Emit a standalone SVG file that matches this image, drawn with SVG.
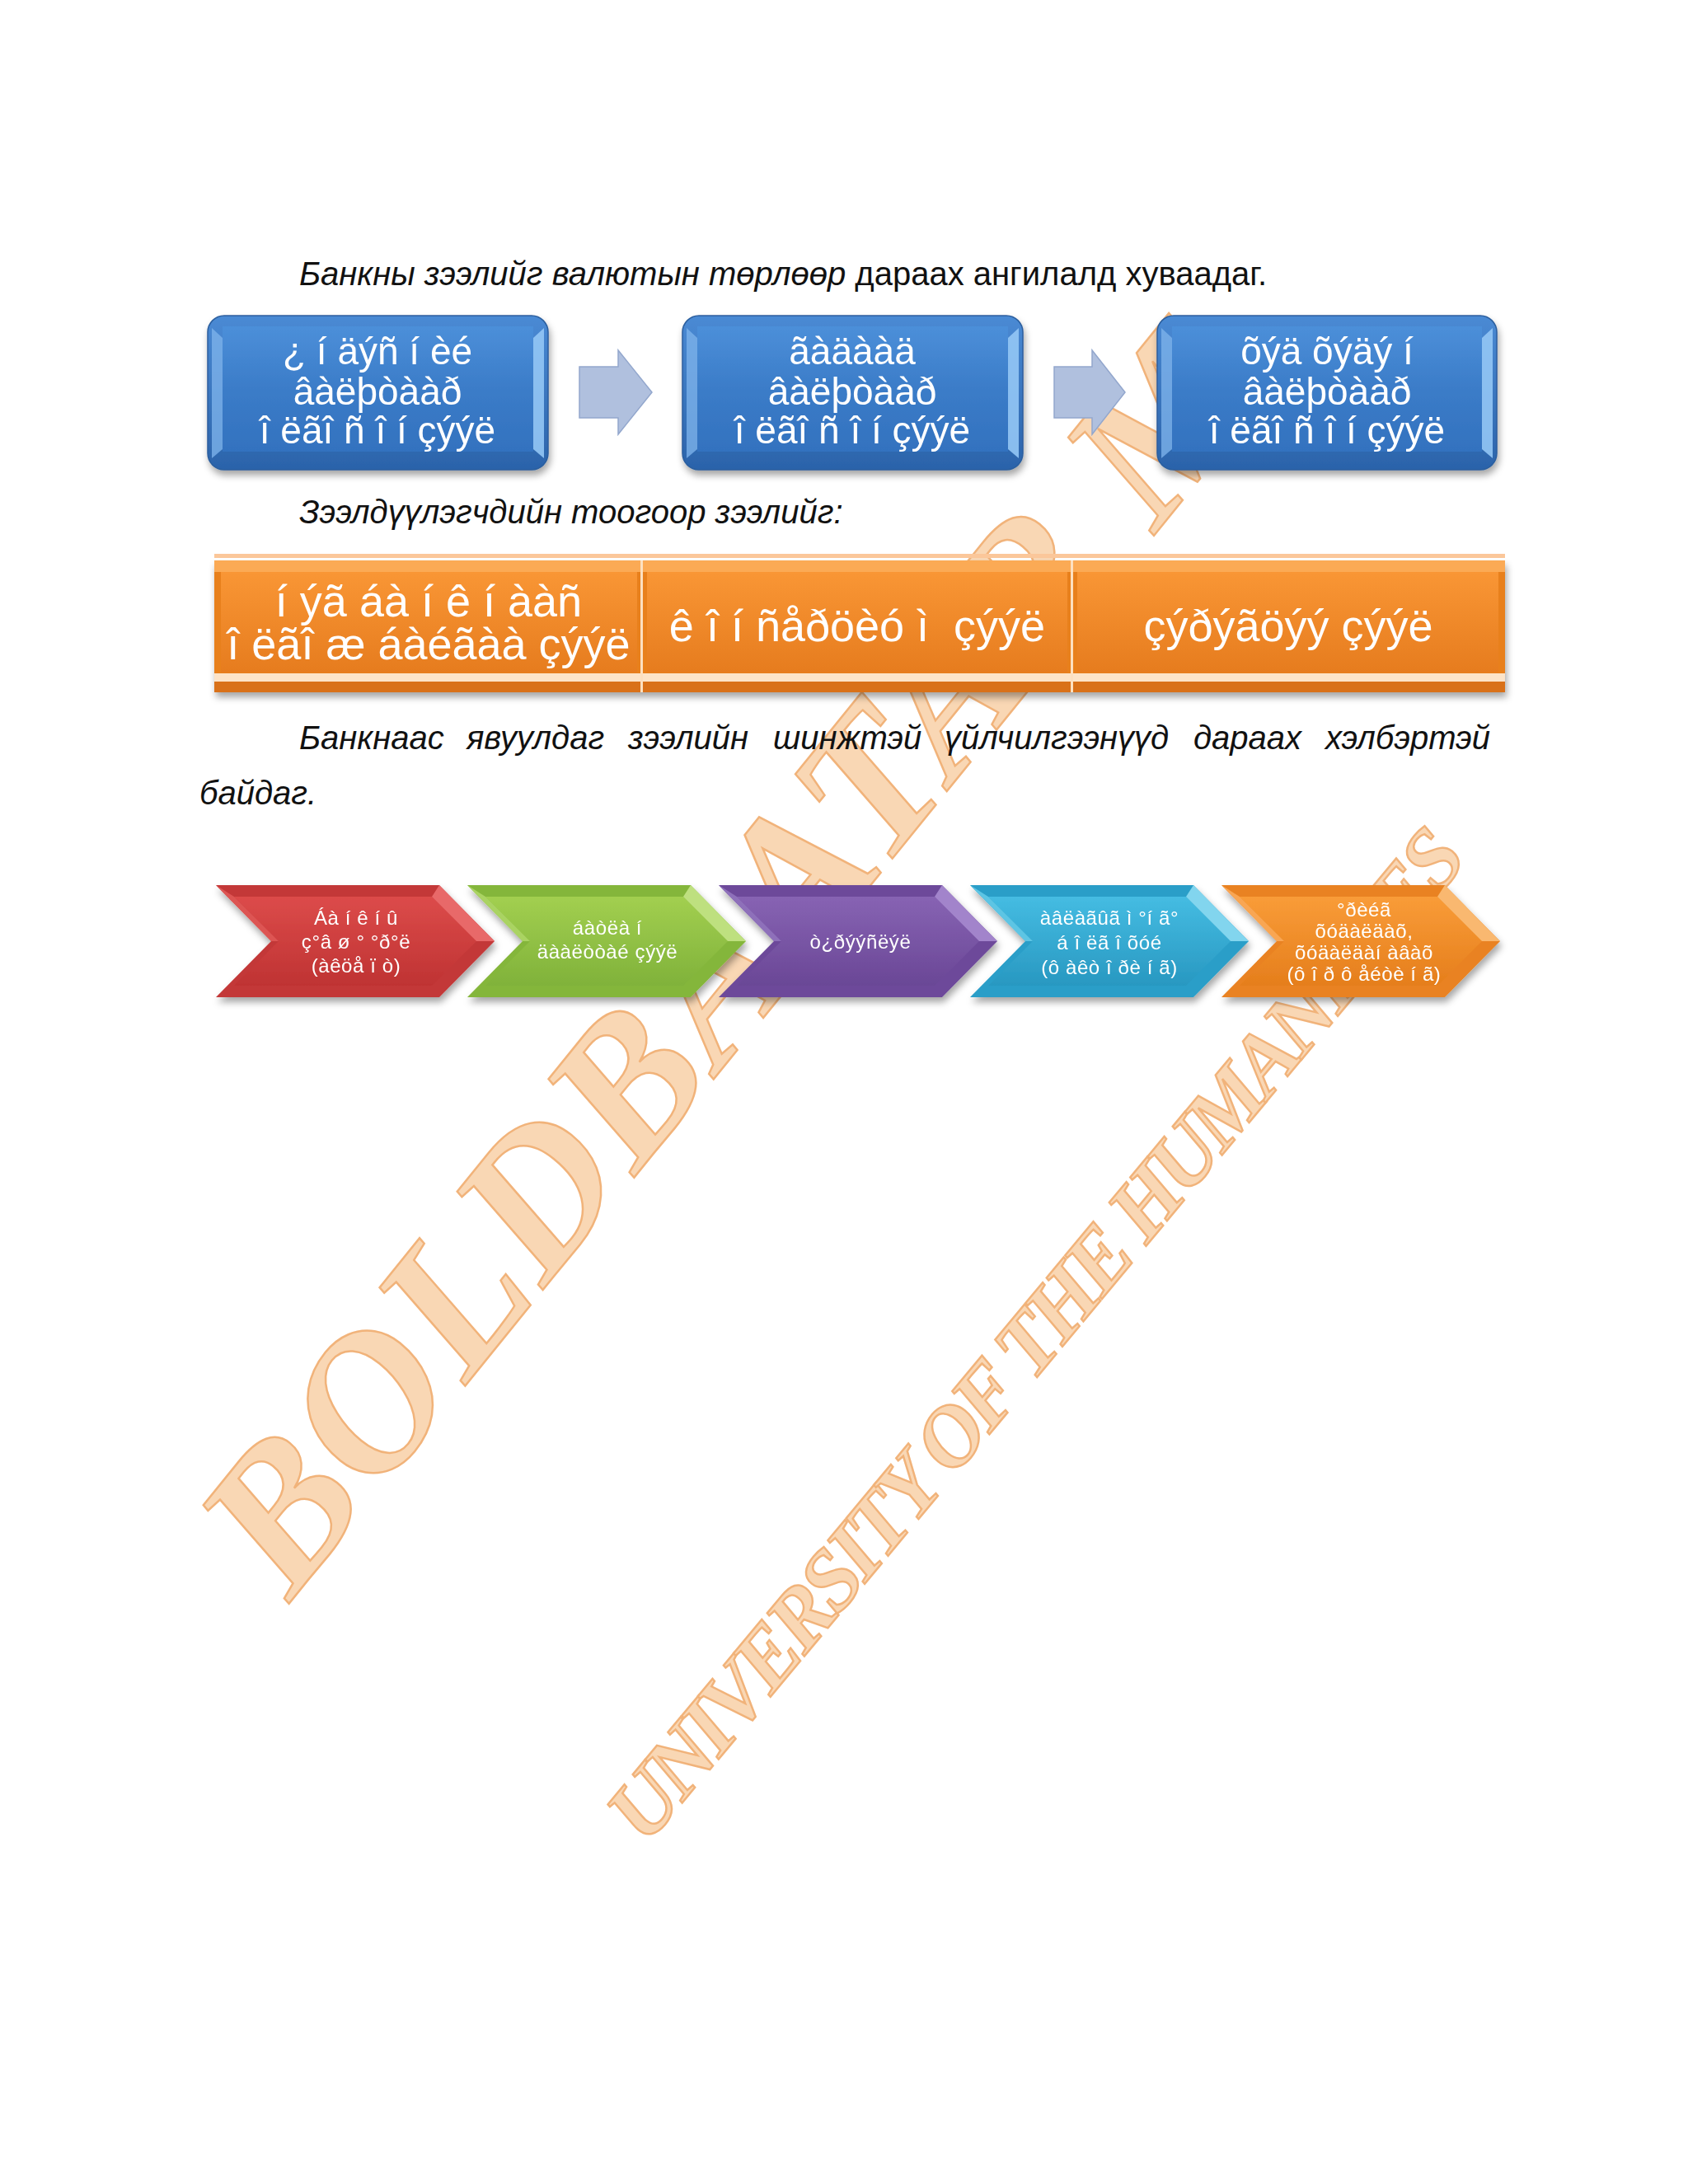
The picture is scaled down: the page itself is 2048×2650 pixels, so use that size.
<svg xmlns="http://www.w3.org/2000/svg" width="2048" height="2650" viewBox="0 0 2048 2650">
<style>
.body{font-family:"Liberation Sans",Arial,sans-serif;font-size:40px;fill:#111}
.it{font-style:italic}
.wm{font-family:"Liberation Serif","Times New Roman",serif;font-weight:bold;font-style:italic;fill:#f8c898;stroke:#ec9648;stroke-width:2.5;opacity:.72}
.bt{font-family:"Liberation Sans",Arial,sans-serif;font-size:46px;fill:#fff;text-anchor:middle}
.ot{font-family:"Liberation Sans",Arial,sans-serif;font-size:54px;fill:#fff;text-anchor:middle;white-space:pre}
.ct{font-family:"Liberation Sans",Arial,sans-serif;font-size:24px;fill:#fff;text-anchor:middle;letter-spacing:0.6px;white-space:pre}
.arrow{fill:#b0c0de;stroke:#93a7cd;stroke-width:1.5}
.bout{fill:url(#blueOuter);stroke:#2c5e9e;stroke-width:1.5}
.bface{fill:url(#blueFace)}
.bl{fill:#7cb2ea;opacity:.8}
.br{fill:#93c6f5;opacity:.9}
.lf{opacity:.85}
</style>
<defs>
<linearGradient id="blueOuter" x1="0" y1="0" x2="0" y2="1"><stop offset="0" stop-color="#4a8ad4"/><stop offset="1" stop-color="#2b63aa"/></linearGradient>
<linearGradient id="blueFace" x1="0" y1="0" x2="0" y2="1"><stop offset="0" stop-color="#4c8fd9"/><stop offset="0.5" stop-color="#3b7cc8"/><stop offset="1" stop-color="#3372bf"/></linearGradient>
<linearGradient id="orFace" x1="0" y1="0" x2="0" y2="1"><stop offset="0" stop-color="#f99635"/><stop offset="1" stop-color="#e67c1e"/></linearGradient>
<linearGradient id="gRed" x1="0" y1="0" x2="0" y2="1"><stop offset="0" stop-color="#dc4b4a"/><stop offset="1" stop-color="#bf3333"/></linearGradient>
<linearGradient id="gGreen" x1="0" y1="0" x2="0" y2="1"><stop offset="0" stop-color="#a2cf50"/><stop offset="1" stop-color="#80b23a"/></linearGradient>
<linearGradient id="gPurple" x1="0" y1="0" x2="0" y2="1"><stop offset="0" stop-color="#8763b3"/><stop offset="1" stop-color="#6a4796"/></linearGradient>
<linearGradient id="gCyan" x1="0" y1="0" x2="0" y2="1"><stop offset="0" stop-color="#45bce2"/><stop offset="1" stop-color="#2898c1"/></linearGradient>
<linearGradient id="gOrange" x1="0" y1="0" x2="0" y2="1"><stop offset="0" stop-color="#f99c38"/><stop offset="1" stop-color="#e57e1c"/></linearGradient>
<filter id="sh" x="-10%" y="-20%" width="120%" height="150%"><feDropShadow dx="2" dy="6" stdDeviation="4" flood-color="#000" flood-opacity="0.35"/></filter>
</defs>
<rect width="2048" height="2650" fill="#fff"/>

<g id="watermark">
<text class="wm" font-size="238" transform="translate(352,1944) rotate(-51)" textLength="1880" lengthAdjust="spacing">BOLDBAATAR M</text>
<text class="wm" font-size="104" transform="translate(784,2240) rotate(-50.2)" textLength="1560" lengthAdjust="spacing">UNIVERSITY OF THE HUMANITIES</text>
</g>

<g id="text1"><text class="body" x="363" y="346"><tspan class="it">Банкны зээлийг валютын төрлөөр</tspan> дараах ангилалд хуваадаг.</text></g>
<g id="text2"><text class="body it" x="363" y="635">Зээлдүүлэгчдийн тоогоор зээлийг:</text></g>
<g id="text3">
<text class="body it" x="363" y="909">Банкнаас</text>
<text class="body it" x="566" y="909">явуулдаг</text>
<text class="body it" x="762" y="909">зээлийн</text>
<text class="body it" x="938" y="909">шинжтэй</text>
<text class="body it" x="1146" y="909">үйлчилгээнүүд</text>
<text class="body it" x="1448" y="909">дараах</text>
<text class="body it" x="1808" y="909" text-anchor="end">хэлбэртэй</text>
<text class="body it" x="242" y="976">байдаг.</text>
</g>

<g id="connectors">
<polygon class="arrow" points="703,445 750,445 750,425 791,476 750,527 750,507 703,507"/>
<polygon class="arrow" points="1279,445 1325,445 1325,425 1365,476 1325,527 1325,507 1279,507"/>
</g>

<g id="box1" filter="url(#sh)">
<rect class="bout" x="252" y="383" width="413" height="187" rx="20"/>
<polygon class="bl" points="257,398 270,410 270,545 257,556"/>
<polygon class="br" points="660,398 647,410 647,545 660,556"/>
<rect class="bface" x="270" y="396" width="377" height="152"/>
<text class="bt" x="458" y="442">¿ í äýñ í èé</text>
<text class="bt" x="458" y="491">âàëþòààð</text>
<text class="bt" x="458" y="538">î ëãî ñ î í çýýë</text>
</g>
<g id="box2" filter="url(#sh)">
<rect class="bout" x="828" y="383" width="413" height="187" rx="20"/>
<polygon class="bl" points="833,398 846,410 846,545 833,556"/>
<polygon class="br" points="1236,398 1223,410 1223,545 1236,556"/>
<rect class="bface" x="846" y="396" width="377" height="152"/>
<text class="bt" x="1034" y="442">ãàäààä</text>
<text class="bt" x="1034" y="491">âàëþòààð</text>
<text class="bt" x="1034" y="538">î ëãî ñ î í çýýë</text>
</g>
<g id="box3" filter="url(#sh)">
<rect class="bout" x="1404" y="383" width="412" height="187" rx="20"/>
<polygon class="bl" points="1409,398 1422,410 1422,545 1409,556"/>
<polygon class="br" points="1811,398 1798,410 1798,545 1811,556"/>
<rect class="bface" x="1422" y="396" width="376" height="152"/>
<text class="bt" x="1610" y="442">õýä õýäý í</text>
<text class="bt" x="1610" y="491">âàëþòààð</text>
<text class="bt" x="1610" y="538">î ëãî ñ î í çýýë</text>
</g>

<g id="bar">
<rect x="260" y="672" width="1566" height="5" fill="#fbc79a"/>
<rect x="260" y="680" width="1566" height="160" fill="#e8801f" filter="url(#sh)"/>
</g>
<g id="seg1">
<rect x="260" y="680" width="519" height="14" fill="#fbaa55"/>
<rect x="268" y="694" width="505" height="122" fill="url(#orFace)"/>
<text class="ot" x="520" y="748">í ýã áà í ê í ààñ</text>
<text class="ot" x="520" y="800">î ëãî æ áàéãàà çýýë</text>
</g>
<g id="seg2">
<rect x="779" y="680" width="522" height="14" fill="#fbaa55"/>
<rect x="785" y="694" width="510" height="122" fill="url(#orFace)"/>
<text class="ot" x="1040" y="778">ê î í ñåðöèó ì  çýýë</text>
</g>
<g id="seg3">
<rect x="1301" y="680" width="525" height="14" fill="#fbaa55"/>
<rect x="1307" y="694" width="511" height="122" fill="url(#orFace)"/>
<text class="ot" x="1563" y="778">çýðýãöýý çýýë</text>
</g>
<g id="barEdges">
<rect x="260" y="817" width="1566" height="10" fill="#fde4c8"/>
<rect x="260" y="827" width="1566" height="13" fill="#d97119"/>
<rect x="777" y="680" width="3" height="160" fill="#fde0c0"/>
<rect x="1299" y="680" width="3" height="160" fill="#fde0c0"/>
</g>

<g id="chev1" filter="url(#sh)">
<polygon fill="#c33737" points="262,1074 533,1074 600,1142 533,1210 262,1210 329,1142"/>
<polygon fill="url(#gRed)" points="284,1088 524,1088 578,1142 524,1196 284,1196 338,1142"/>
<polygon class="lf" fill="#ee7272" points="533,1074 600,1142 578,1142 524,1088"/>
<polygon class="lf" fill="#e25a58" points="262,1074 329,1142 338,1142 284,1088"/>
<text class="ct" x="432" y="1122">Áà í ê í û</text>
<text class="ct" x="432" y="1151">ç°â ø ° °ð°ë</text>
<text class="ct" x="432" y="1180">(àêöå ï ò)</text>
</g>
<g id="chev2" filter="url(#sh)">
<polygon fill="#84b63a" points="567,1074 838,1074 905,1142 838,1210 567,1210 634,1142"/>
<polygon fill="url(#gGreen)" points="589,1088 829,1088 883,1142 829,1196 589,1196 643,1142"/>
<polygon class="lf" fill="#c8e88c" points="838,1074 905,1142 883,1142 829,1088"/>
<polygon class="lf" fill="#b0d86a" points="567,1074 634,1142 643,1142 589,1088"/>
<text class="ct" x="737" y="1134">áàòëà í</text>
<text class="ct" x="737" y="1163">äààëòòàé çýýë</text>
</g>
<g id="chev3" filter="url(#sh)">
<polygon fill="#6d4a9a" points="872,1074 1143,1074 1210,1142 1143,1210 872,1210 939,1142"/>
<polygon fill="url(#gPurple)" points="894,1088 1134,1088 1188,1142 1134,1196 894,1196 948,1142"/>
<polygon class="lf" fill="#ab8ed3" points="1143,1074 1210,1142 1188,1142 1134,1088"/>
<polygon class="lf" fill="#9475c0" points="872,1074 939,1142 948,1142 894,1088"/>
<text class="ct" x="1044" y="1151">ò¿ðýýñëýë</text>
</g>
<g id="chev4" filter="url(#sh)">
<polygon fill="#2a9ec8" points="1177,1074 1448,1074 1515,1142 1448,1210 1177,1210 1244,1142"/>
<polygon fill="url(#gCyan)" points="1199,1088 1439,1088 1493,1142 1439,1196 1199,1196 1253,1142"/>
<polygon class="lf" fill="#92def4" points="1448,1074 1515,1142 1493,1142 1439,1088"/>
<polygon class="lf" fill="#66cbe9" points="1177,1074 1244,1142 1253,1142 1199,1088"/>
<text class="ct" x="1346" y="1122">àâëàãûã ì °í ã°</text>
<text class="ct" x="1346" y="1152">á î ëã î õóé</text>
<text class="ct" x="1346" y="1182">(ô àêò î ðè í ã)</text>
</g>
<g id="chev5" filter="url(#sh)">
<polygon fill="#e98220" points="1482,1074 1753,1074 1820,1142 1753,1210 1482,1210 1549,1142"/>
<polygon fill="url(#gOrange)" points="1504,1088 1744,1088 1798,1142 1744,1196 1504,1196 1558,1142"/>
<polygon class="lf" fill="#fcc27e" points="1753,1074 1820,1142 1798,1142 1744,1088"/>
<polygon class="lf" fill="#fbad5c" points="1482,1074 1549,1142 1558,1142 1504,1088"/>
<text class="ct" x="1655" y="1112">°ðèéã</text>
<text class="ct" x="1655" y="1138">õóäàëäàõ,</text>
<text class="ct" x="1655" y="1164">õóäàëäàí àâàõ</text>
<text class="ct" x="1655" y="1190">(ô î ð ô åéòè í ã)</text>
</g>
</svg>
